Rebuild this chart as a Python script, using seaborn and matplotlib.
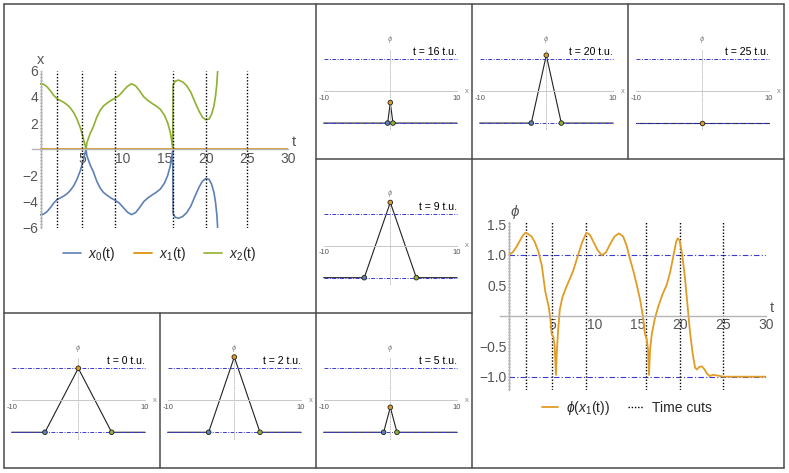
import numpy as np
import seaborn as sns
import matplotlib.pyplot as plt
from matplotlib.lines import Line2D
from matplotlib.ticker import MultipleLocator

sns.set_style('white')
plt.rcParams['font.family'] = ['Liberation Sans', 'DejaVu Sans']
plt.rcParams['mathtext.fontset'] = 'custom'
plt.rcParams['mathtext.rm'] = 'Liberation Sans'
plt.rcParams['mathtext.it'] = 'Liberation Sans:italic'
plt.rcParams['mathtext.fallback'] = 'stixsans'

# ---- trajectories x0(t), x1(t), x2(t) ----
t_x = [0.0, 0.4, 0.8, 1.2, 1.6, 2.0, 2.4, 2.8, 3.2, 3.6, 4.0, 4.4, 4.8, 5.1, 5.3, 5.5,
       5.6, 6.0, 6.4, 6.8, 7.2, 7.6, 8.0, 8.5, 9.0, 9.5, 10.0, 10.5, 11.0, 11.5, 12.0,
       12.5, 13.0, 13.5, 14.0, 14.5, 15.0, 15.4, 15.7, 15.9, 16.0, 16.05, 16.3, 16.7,
       17.2, 17.7, 18.2, 18.7, 19.2, 19.6, 20.0, 20.4, 20.7, 21.0, 21.2, 21.35, 21.45]
x2_vals = [5.0, 4.95, 4.75, 4.45, 4.1, 3.85, 3.72, 3.58, 3.4, 3.15, 2.8, 2.3, 1.65, 1.0, 0.5, 0.0,
           0.5, 1.2, 1.75, 2.45, 2.95, 3.3, 3.5, 3.72, 3.9, 4.1, 4.45, 4.8, 5.0, 4.85, 4.45,
           4.0, 3.72, 3.5, 3.3, 3.05, 2.6, 2.0, 1.3, 0.6, 0.15, 4.9, 5.2, 5.28,
           5.15, 4.85, 4.35, 3.6, 2.9, 2.45, 2.25, 2.3, 2.65, 3.3, 4.1, 5.0, 6.0]
x0_vals = [-5.0, -4.95, -4.75, -4.45, -4.1, -3.85, -3.72, -3.58, -3.4, -3.15, -2.8, -2.3, -1.65, -1.0, -0.5, 0.0,
           -0.5, -1.2, -1.75, -2.45, -2.95, -3.3, -3.5, -3.72, -3.9, -4.1, -4.45, -4.8, -5.0, -4.85, -4.45,
           -4.0, -3.72, -3.5, -3.3, -3.05, -2.6, -2.0, -1.3, -0.6, -0.15, -4.9, -5.2, -5.28,
           -5.15, -4.85, -4.35, -3.6, -2.9, -2.45, -2.25, -2.3, -2.65, -3.3, -4.1, -5.0, -6.0]
t_x1 = [0.0, 30.0]
x1_vals = [0.0, 0.0]

# ---- phi(x1(t)) ----
t_phi = [0.0, 0.4, 0.8, 1.2, 1.6, 1.9, 2.2, 2.6, 3.0, 3.4, 3.8, 4.2, 4.6, 4.8, 4.95, 5.15, 5.3,
         5.45, 5.55, 5.7, 5.9, 6.2, 6.6, 7.0, 7.5, 8.0, 8.5, 9.0, 9.4, 9.8, 10.3, 10.8, 11.3,
         11.8, 12.3, 12.8, 13.3, 13.7, 14.1, 14.5, 14.9, 15.3, 15.6, 15.85, 16.05, 16.2, 16.32,
         16.45, 16.65, 17.0, 17.4, 17.9, 18.4, 18.8, 19.2, 19.5, 19.7, 19.9, 20.2, 20.5, 20.8,
         21.1, 21.4, 21.7, 21.9, 22.2, 22.5, 22.8, 23.1, 23.4, 23.8, 24.3, 25.0, 30.0]
phi_vals = [1.0, 1.04, 1.12, 1.22, 1.32, 1.36, 1.34, 1.3, 1.2, 1.05, 0.82, 0.4, 0.15, -0.05, -0.3, -0.35, -0.5,
            -0.97, -0.6, -0.25, 0.1, 0.3, 0.45, 0.58, 0.75, 0.98, 1.2, 1.36, 1.33, 1.22, 1.08, 0.99, 1.04,
            1.18, 1.3, 1.35, 1.3, 1.15, 0.93, 0.73, 0.5, 0.25, 0.0, -0.3, -0.38, -0.55, -0.97,
            -0.55, -0.3, -0.05, 0.15, 0.35, 0.51, 0.72, 1.0, 1.22, 1.27, 1.23, 1.0, 0.65, 0.2,
            -0.25, -0.6, -0.85, -0.88, -0.84, -0.83, -0.88, -0.95, -0.99, -0.97, -0.98, -1.0, -1.0]

# ---- time cuts and snapshots ----
cut_times = [0, 2, 5, 9, 16, 20, 25]
snap_x0 = [-5.0, -3.85, -1.0, -3.9, -0.4, -2.25, np.nan]
snap_phi = [1.0, 1.35, -0.22, 1.35, -0.36, 1.12, -1.0]
snap_x2 = [5.0, 3.85, 1.0, 3.9, 0.4, 2.25, np.nan]

C0, C1, C2 = '#5E81B5', '#E19C24', '#8FB032'
DASHBLUE = '#3a3ad0'
GRAY = '#555555'
AXGRAY = '#b5b5b5'
DOTS = (0, (1, 1.3))

W, H = 789, 473
fig = plt.figure(figsize=(W / 100, H / 100), dpi=100)


def rect(x0, y0, x1, y1):
    return [x0 / W, 1 - y1 / H, (x1 - x0) / W, (y1 - y0) / H]


def origin_axes(ax):
    for s in ['top', 'right']:
        ax.spines[s].set_visible(False)
    for s in ['left', 'bottom']:
        ax.spines[s].set_position(('data', 0))
        ax.spines[s].set_color(AXGRAY)
        ax.spines[s].set_linewidth(1.0)
    ax.set_facecolor('none')
    ax.tick_params(which='both', direction='in', colors=AXGRAY, labelcolor=GRAY)


# ---------------- big panel: trajectories ----------------
ax1 = fig.add_axes(rect(32.0, 70.7, 288.2, 227.7))
origin_axes(ax1)
sns.lineplot(x=t_x, y=x0_vals, ax=ax1, color=C0, lw=1.2, label=r'$x_0$(t)')
sns.lineplot(x=t_x1, y=x1_vals, ax=ax1, color=C1, lw=1.4, label=r'$x_1$(t)')
sns.lineplot(x=t_x, y=x2_vals, ax=ax1, color=C2, lw=1.2, label=r'$x_2$(t)')
ax1.vlines(cut_times, -6, 6, colors='black', linestyles=DOTS, lw=1.0)
ax1.set_xlim(-1.05, 30)
ax1.set_ylim(-6, 6)
ax1.set_xticks([5, 10, 15, 20, 25, 30])
ax1.set_yticks([-6, -4, -2, 2, 4, 6])
ax1.xaxis.set_minor_locator(MultipleLocator(1))
ax1.yaxis.set_minor_locator(MultipleLocator(0.5))
ax1.tick_params(which='major', length=3, labelsize=10, pad=2)
ax1.tick_params(which='minor', length=1.5)
ax1.text(0, 6.25, 'x', color=GRAY, fontsize=10.5, ha='center', va='bottom')
ax1.text(30.4, 0.05, 't', color=GRAY, fontsize=10.5, ha='left', va='bottom')
ax1.legend(loc='center', bbox_to_anchor=(160 / W, 1 - 254 / H), bbox_transform=fig.transFigure,
           ncol=3, frameon=False, fontsize=10, handlelength=1.3, columnspacing=1.3,
           handletextpad=0.5)

# ---------------- big panel: phi(x1(t)) ----------------
ax2 = fig.add_axes(rect(500.3, 222.4, 766.1, 389.5))
origin_axes(ax2)
ax2.hlines([1, -1], 0, 30, colors=DASHBLUE, linestyles=(0, (5, 2, 1, 2)), lw=0.8)
ax2.vlines(cut_times, -1.21, 1.53, colors='black', linestyles=DOTS, lw=1.0,
           label='Time cuts')
sns.lineplot(x=t_phi, y=phi_vals, ax=ax2, color=C1, lw=1.3, label=r'$\phi$($x_1$(t))')
ax2.set_xlim(-1.05, 30)
ax2.set_ylim(-1.21, 1.53)
ax2.set_xticks([5, 10, 15, 20, 25, 30])
ax2.set_yticks([-1.0, -0.5, 0.5, 1.0, 1.5])
ax2.set_yticklabels(['\u22121.0', '\u22120.5', '0.5', '1.0', '1.5'])
ax2.xaxis.set_minor_locator(MultipleLocator(1))
ax2.yaxis.set_minor_locator(MultipleLocator(0.1))
ax2.tick_params(which='major', length=3, labelsize=10, pad=2)
ax2.tick_params(which='minor', length=1.5)
ax2.text(0.05, 1.55, r'$\phi$', color=GRAY, fontsize=11, ha='left', va='bottom')
ax2.text(30.4, 0.01, 't', color=GRAY, fontsize=10.5, ha='left', va='bottom')
h, l = ax2.get_legend_handles_labels()
ax2.legend(h[::-1], l[::-1], loc='center', bbox_to_anchor=(627 / W, 1 - 408 / H),
           bbox_transform=fig.transFigure, ncol=2, frameon=False, fontsize=10,
           handlelength=1.1, columnspacing=1.3, handletextpad=0.6)

# ---------------- snapshot panels ----------------
col_edges = [4, 160, 316, 472, 628, 784]
row_edges = [4, 158.6, 313.2, 467.8]
cells = {0: (2, 0), 2: (2, 1), 5: (2, 2), 9: (1, 2), 16: (0, 2), 20: (0, 3), 25: (0, 4)}

for t, x0, ph, x2 in zip(cut_times, snap_x0, snap_phi, snap_x2):
    r, c = cells[t]
    ax = fig.add_axes(rect(col_edges[c], row_edges[r], col_edges[c + 1], row_edges[r + 1]))
    origin_axes(ax)
    ax.set_xlim(-11.14, 12.25)
    ax.set_ylim(-2.11, 2.72)
    ax.spines['bottom'].set_bounds(-10, 10)
    ax.spines['bottom'].set_color('#c8c8c8')
    ax.spines['bottom'].set_linewidth(0.7)
    ax.spines['left'].set_bounds(-1.2, 1.32)
    ax.spines['left'].set_color('#c8c8c8')
    ax.spines['left'].set_linewidth(0.7)
    ax.spines['left'].set_linestyle((0, (1, 1.5)))
    ax.set_xticks([-10, 10])
    ax.set_xticklabels(['-10', '10'])
    ax.set_yticks([])
    ax.xaxis.set_minor_locator(MultipleLocator(2))
    ax.yaxis.set_minor_locator(MultipleLocator(0.5))
    ax.tick_params(which='major', length=2, width=0.5, labelsize=5.5, pad=2.5)
    ax.tick_params(which='minor', length=1.2, width=0.5)
    ax.text(0, 1.45, r'$\phi$', color='#888888', fontsize=5.5, ha='center', va='bottom')
    ax.text(11.2, 0, 'x', color='#888888', fontsize=5.5, ha='left', va='center')

    if np.isnan(x0):
        px, py = [-10, 0, 10], [-1, ph, -1]
        mx, my, mc = [0], [ph], [C1]
    else:
        px, py = [-10, x0, 0, x2, 10], [-1, -1, ph, -1, -1]
        mx, my, mc = [x0, 0, x2], [-1, ph, -1], [C0, C1, C2]
    sns.lineplot(x=px, y=py, ax=ax, color='#222222', lw=0.8, sort=False, estimator=None)
    ax.hlines([1, -1], -10, 10, colors=DASHBLUE, linestyles=(0, (4, 1.5, 1, 1.5)), lw=0.7)
    ax.scatter(mx, my, s=11, c=mc, edgecolors='#222222', linewidths=0.6, zorder=5)
    ax.text(10, 1.06, f't = {t} t.u.', fontsize=7.6, ha='right', va='bottom', color='black')

# ---------------- cell borders ----------------
BC = '#4a4a4a'
segments = [
    ((4, 4), (784, 4)), ((4, 467.8), (784, 467.8)),
    ((4, 4), (4, 467.8)), ((784, 4), (784, 467.8)),
    ((160, 313.2), (160, 467.8)), ((316, 4), (316, 467.8)),
    ((472, 4), (472, 467.8)), ((628, 4), (628, 158.6)),
    ((316, 158.6), (784, 158.6)), ((4, 313.2), (472, 313.2)),
]
for (xa, ya), (xb, yb) in segments:
    fig.add_artist(Line2D([xa / W, xb / W], [1 - ya / H, 1 - yb / H],
                          transform=fig.transFigure, color=BC, lw=1.1))

fig.savefig('out.png', dpi=100)
